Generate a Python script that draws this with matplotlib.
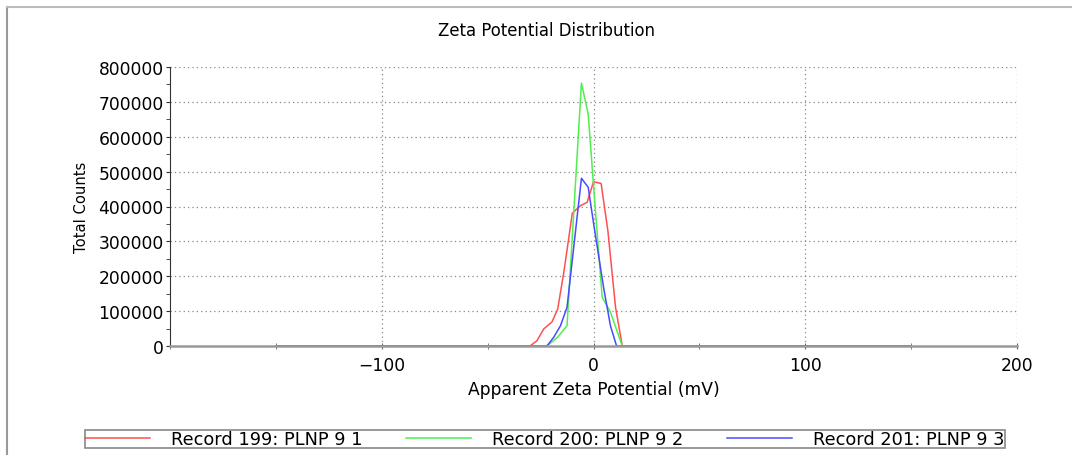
import matplotlib
matplotlib.use("Agg")
import matplotlib.pyplot as plt
from matplotlib.ticker import MultipleLocator

# Record 199: PLNP 9 1
x_red = [-150, -30, -26.7, -23.5, -19.6, -16.9, -14, -10, -6.2, -3, 0, 3.6, 6.8, 10.4, 13.6, 150]
y_red = [0, 0, 15000, 49000, 69000, 106000, 212000, 381000, 402000, 412000, 471000, 466000, 330000, 111000, 0, 0]

# Record 200: PLNP 9 2
x_green = [-150, -22, -17, -12.5, -5.7, -2.5, 1, 4.1, 8, 13.6, 150]
y_green = [0, 0, 25000, 58000, 754000, 665000, 380000, 140000, 97000, 0, 0]

# Record 201: PLNP 9 3
x_blue = [-150, -22, -18.8, -15.6, -12.5, -5.7, -2.5, 0.2, 4.9, 8, 10.9, 150]
y_blue = [0, 0, 25000, 58000, 111000, 481000, 455000, 345000, 163000, 58000, 0, 0]

labels = ["Record 199: PLNP 9 1", "Record 200: PLNP 9 2", "Record 201: PLNP 9 3"]
colors = ["#ff5050", "#50ee50", "#4a4aff"]

plt.rcParams['font.family'] = ['DejaVu Sans']

fig = plt.figure(figsize=(10.72, 4.56), dpi=100)
ax = fig.add_axes([170 / 1072, 1 - 347 / 456, (1017 - 170) / 1072, (347 - 68) / 456])

# рамка вокруг окна
fig.add_artist(plt.Line2D([7 / 1072, 7 / 1072], [0, 1 - 8 / 456], color="#999999", lw=1.5,
                          transform=fig.transFigure))
fig.add_artist(plt.Line2D([7 / 1072, 1], [1 - 8 / 456, 1 - 8 / 456], color="#bbbbbb", lw=1.5,
                          transform=fig.transFigure))

ax.plot(x_red, y_red, color=colors[0], lw=1.1, label=labels[0])
ax.plot(x_green, y_green, color=colors[1], lw=1.1, label=labels[1])
ax.plot(x_blue, y_blue, color=colors[2], lw=1.1, label=labels[2])

ax.set_xlim(-200, 200)
ax.set_ylim(0, 800000)
ax.set_xticks([-100, 0, 100, 200])
ax.xaxis.set_minor_locator(MultipleLocator(50))
ax.set_yticks(range(0, 800001, 100000))
ax.yaxis.set_minor_locator(MultipleLocator(50000))

ax.grid(True, which="major", color="#888888", linestyle=(0, (1, 2.5)), lw=0.9)
ax.spines["top"].set_visible(False)
ax.spines["right"].set_visible(False)
ax.spines["left"].set_color("#333333")
ax.spines["bottom"].set_color("#999999")
ax.spines["bottom"].set_linewidth(1.8)

ax.tick_params(axis="y", which="both", direction="out", length=3, color="#333333",
               labelsize=12.3, pad=1.5)
ax.tick_params(axis="x", which="both", direction="inout", length=5, color="#666666",
               labelsize=12.3, pad=5)

fig.text(546 / 1072, 1 - 31 / 456, "Zeta Potential Distribution", fontsize=11.9,
         ha="center", va="center")
ax.set_xlabel("Apparent Zeta Potential (mV)", fontsize=12.3, labelpad=4)
ax.set_ylabel("Total Counts", fontsize=10.6, labelpad=7)

leg = fig.legend(loc="lower left", bbox_to_anchor=(85 / 1072, 7 / 456), ncol=3, fontsize=12.8,
                 handlelength=3.65, handletextpad=1.18, columnspacing=2.47,
                 borderpad=0.0, borderaxespad=0, fancybox=False, framealpha=1)
leg.get_frame().set_edgecolor("#888888")
leg.get_frame().set_linewidth(1.2)

fig.savefig("out.png", dpi=100)
